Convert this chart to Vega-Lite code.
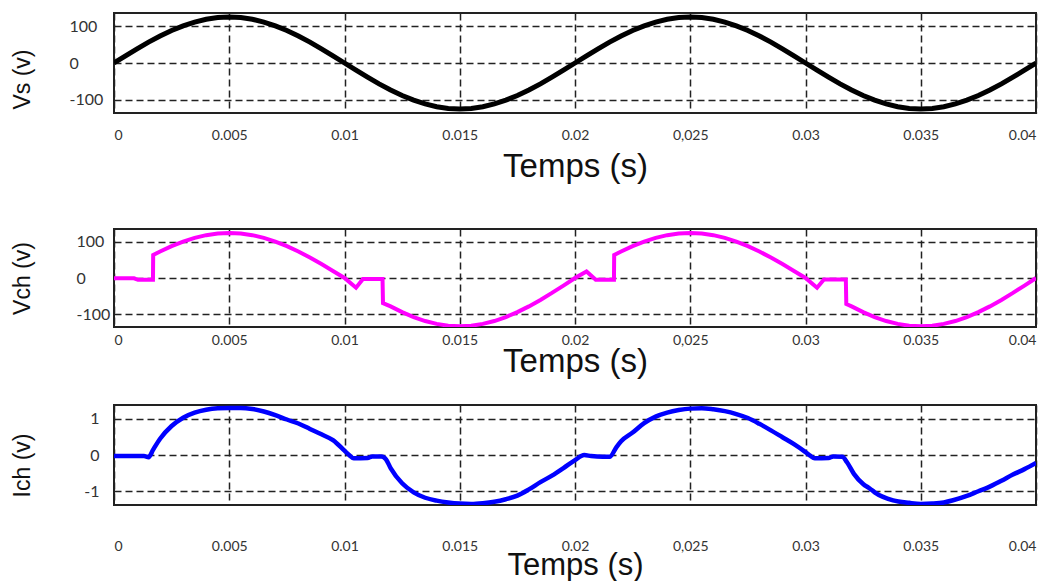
{
  "$schema": "https://vega.github.io/schema/vega-lite/v6.json",
  "padding": {"left": 10, "top": 12, "right": 5, "bottom": 0},
  "background": "white",
  "datasets": {
    "vs": [
      {"t":0,"v":0},{"t":0.0005,"v":19.6},{"t":0.001,"v":38.6},{"t":0.0015,"v":56.8},{"t":0.002,"v":73.5},{"t":0.0025,"v":88.4},{"t":0.003,"v":101.1},{"t":0.0035,"v":111.4},{"t":0.004,"v":118.9},{"t":0.0045,"v":123.5},
      {"t":0.005,"v":125},{"t":0.0055,"v":123.5},{"t":0.006,"v":118.9},{"t":0.0065,"v":111.4},{"t":0.007,"v":101.1},{"t":0.0075,"v":88.4},{"t":0.008,"v":73.5},{"t":0.0085,"v":56.8},{"t":0.009,"v":38.6},{"t":0.0095,"v":19.6},
      {"t":0.01,"v":0},{"t":0.0105,"v":-19.6},{"t":0.011,"v":-38.6},{"t":0.0115,"v":-56.8},{"t":0.012,"v":-73.5},{"t":0.0125,"v":-88.4},{"t":0.013,"v":-101.1},{"t":0.0135,"v":-111.4},{"t":0.014,"v":-118.9},{"t":0.0145,"v":-123.5},
      {"t":0.015,"v":-125},{"t":0.0155,"v":-123.5},{"t":0.016,"v":-118.9},{"t":0.0165,"v":-111.4},{"t":0.017,"v":-101.1},{"t":0.0175,"v":-88.4},{"t":0.018,"v":-73.5},{"t":0.0185,"v":-56.8},{"t":0.019,"v":-38.6},{"t":0.0195,"v":-19.6},
      {"t":0.02,"v":0},{"t":0.0205,"v":19.6},{"t":0.021,"v":38.6},{"t":0.0215,"v":56.8},{"t":0.022,"v":73.5},{"t":0.0225,"v":88.4},{"t":0.023,"v":101.1},{"t":0.0235,"v":111.4},{"t":0.024,"v":118.9},{"t":0.0245,"v":123.5},
      {"t":0.025,"v":125},{"t":0.0255,"v":123.5},{"t":0.026,"v":118.9},{"t":0.0265,"v":111.4},{"t":0.027,"v":101.1},{"t":0.0275,"v":88.4},{"t":0.028,"v":73.5},{"t":0.0285,"v":56.8},{"t":0.029,"v":38.6},{"t":0.0295,"v":19.6},
      {"t":0.03,"v":0},{"t":0.0305,"v":-19.6},{"t":0.031,"v":-38.6},{"t":0.0315,"v":-56.8},{"t":0.032,"v":-73.5},{"t":0.0325,"v":-88.4},{"t":0.033,"v":-101.1},{"t":0.0335,"v":-111.4},{"t":0.034,"v":-118.9},{"t":0.0345,"v":-123.5},
      {"t":0.035,"v":-125},{"t":0.0355,"v":-123.5},{"t":0.036,"v":-118.9},{"t":0.0365,"v":-111.4},{"t":0.037,"v":-101.1},{"t":0.0375,"v":-88.4},{"t":0.038,"v":-73.5},{"t":0.0385,"v":-56.8},{"t":0.039,"v":-38.6},{"t":0.0395,"v":-19.6},
      {"t":0.04,"v":0}
    ],
    "vch": [
      {"t":0,"v":-1},{"t":0.00087,"v":-1},{"t":0.00104,"v":-5},{"t":0.00169,"v":-5},{"t":0.0017,"v":64},{"t":0.002,"v":73.5},{"t":0.0025,"v":88.4},{"t":0.003,"v":101.1},{"t":0.0035,"v":111.4},{"t":0.004,"v":118.9},{"t":0.0045,"v":123.5},
      {"t":0.005,"v":125},{"t":0.0055,"v":123.5},{"t":0.006,"v":118.9},{"t":0.0065,"v":111.4},{"t":0.007,"v":101.1},{"t":0.0075,"v":88.4},{"t":0.008,"v":73.5},{"t":0.0085,"v":56.8},{"t":0.009,"v":38.6},{"t":0.0095,"v":19.6},
      {"t":0.01,"v":0},{"t":0.0105,"v":-27},{"t":0.0108,"v":-3},{"t":0.01165,"v":-3},{"t":0.01167,"v":-70},{"t":0.012,"v":-78.8},{"t":0.0125,"v":-94.8},{"t":0.013,"v":-108.4},{"t":0.0135,"v":-119.4},{"t":0.014,"v":-127.4},{"t":0.0145,"v":-132.4},
      {"t":0.015,"v":-134},{"t":0.0155,"v":-132.4},{"t":0.016,"v":-127.4},{"t":0.0165,"v":-119.4},{"t":0.017,"v":-108.4},{"t":0.0175,"v":-94.8},{"t":0.018,"v":-78.8},{"t":0.0185,"v":-60.8},{"t":0.019,"v":-41.4},{"t":0.0195,"v":-21},
      {"t":0.02,"v":0},{"t":0.0205,"v":18},{"t":0.0209,"v":-5},{"t":0.02169,"v":-5},{"t":0.0217,"v":64},{"t":0.022,"v":73.5},{"t":0.0225,"v":88.4},{"t":0.023,"v":101.1},{"t":0.0235,"v":111.4},{"t":0.024,"v":118.9},{"t":0.0245,"v":123.5},
      {"t":0.025,"v":125},{"t":0.0255,"v":123.5},{"t":0.026,"v":118.9},{"t":0.0265,"v":111.4},{"t":0.027,"v":101.1},{"t":0.0275,"v":88.4},{"t":0.028,"v":73.5},{"t":0.0285,"v":56.8},{"t":0.029,"v":38.6},{"t":0.0295,"v":19.6},
      {"t":0.03,"v":0},{"t":0.0305,"v":-27},{"t":0.0308,"v":-4},{"t":0.03175,"v":-4},{"t":0.03177,"v":-72},{"t":0.032,"v":-78.8},{"t":0.0325,"v":-94.8},{"t":0.033,"v":-108.4},{"t":0.0335,"v":-119.4},{"t":0.034,"v":-127.4},{"t":0.0345,"v":-132.4},
      {"t":0.035,"v":-134},{"t":0.0355,"v":-132.4},{"t":0.036,"v":-127.4},{"t":0.0365,"v":-119.4},{"t":0.037,"v":-108.4},{"t":0.0375,"v":-94.8},{"t":0.038,"v":-78.8},{"t":0.0385,"v":-60.8},{"t":0.039,"v":-41.4},{"t":0.0395,"v":-21},
      {"t":0.04,"v":0}
    ],
    "ich": [
      {"t":0,"v":-0.03},{"t":0.0013,"v":-0.03},{"t":0.0015,"v":-0.06},{"t":0.0017,"v":0.15},{"t":0.002,"v":0.45},{"t":0.0025,"v":0.8},{"t":0.003,"v":1.03},{"t":0.0035,"v":1.17},{"t":0.004,"v":1.25},{"t":0.0045,"v":1.29},
      {"t":0.005,"v":1.3},{"t":0.0055,"v":1.3},{"t":0.006,"v":1.27},{"t":0.0065,"v":1.2},{"t":0.007,"v":1.1},{"t":0.0075,"v":0.98},{"t":0.008,"v":0.87},{"t":0.0085,"v":0.72},{"t":0.009,"v":0.57},{"t":0.0095,"v":0.41},
      {"t":0.01,"v":0.12},{"t":0.0102,"v":0},{"t":0.0104,"v":-0.09},{"t":0.011,"v":-0.08},{"t":0.0112,"v":-0.04},{"t":0.0116,"v":-0.04},{"t":0.0118,"v":-0.12},{"t":0.012,"v":-0.36},{"t":0.0125,"v":-0.78},{"t":0.013,"v":-1.03},
      {"t":0.0135,"v":-1.18},{"t":0.014,"v":-1.26},{"t":0.0145,"v":-1.31},{"t":0.015,"v":-1.34},{"t":0.0155,"v":-1.35},{"t":0.016,"v":-1.33},{"t":0.0165,"v":-1.29},{"t":0.017,"v":-1.22},{"t":0.0175,"v":-1.12},{"t":0.018,"v":-0.95},
      {"t":0.0185,"v":-0.75},{"t":0.019,"v":-0.57},{"t":0.0195,"v":-0.36},{"t":0.02,"v":-0.14},{"t":0.0204,"v":0},{"t":0.0207,"v":-0.03},{"t":0.0212,"v":-0.05},{"t":0.0215,"v":-0.05},{"t":0.0218,"v":0.22},{"t":0.022,"v":0.38},
      {"t":0.0225,"v":0.62},{"t":0.023,"v":0.88},{"t":0.0235,"v":1.06},{"t":0.024,"v":1.17},{"t":0.0245,"v":1.24},{"t":0.025,"v":1.28},{"t":0.0255,"v":1.29},{"t":0.026,"v":1.26},{"t":0.0265,"v":1.21},{"t":0.027,"v":1.13},
      {"t":0.0275,"v":1.02},{"t":0.028,"v":0.86},{"t":0.0285,"v":0.68},{"t":0.029,"v":0.49},{"t":0.0295,"v":0.3},{"t":0.03,"v":0.08},{"t":0.0302,"v":-0.02},{"t":0.0304,"v":-0.09},{"t":0.031,"v":-0.08},{"t":0.0312,"v":-0.04},
      {"t":0.0316,"v":-0.05},{"t":0.0318,"v":-0.2},{"t":0.0321,"v":-0.52},{"t":0.0325,"v":-0.8},{"t":0.0328,"v":-0.93},{"t":0.033,"v":-1.03},{"t":0.0338,"v":-1.25},{"t":0.0345,"v":-1.32},{"t":0.035,"v":-1.35},{"t":0.0355,"v":-1.34},
      {"t":0.036,"v":-1.31},{"t":0.0364,"v":-1.25},{"t":0.037,"v":-1.13},{"t":0.0375,"v":-1.0},{"t":0.0379,"v":-0.9},{"t":0.0385,"v":-0.71},{"t":0.039,"v":-0.54},{"t":0.0395,"v":-0.39},{"t":0.04,"v":-0.22}
    ]
  },
  "spacing": 44,
  "vconcat": [
    {
      "width": 922, "height": 100,
      "data": {"name": "vs"},
      "mark": {"type": "line", "color": "#000000", "strokeWidth": 5, "clip": true},
      "encoding": {
        "x": {"field": "t", "type": "quantitative", "scale": {"domain": [0, 0.04], "nice": false},
          "axis": {"values": [0,0.005,0.01,0.015,0.02,0.025,0.03,0.035,0.04], "labelExpr": "abs(datum.value - 0.025) < 1e-9 ? '0,025' : format(datum.value, '~g')", "labelPadding": 15, "title": "Temps (s)", "titleY": 63}},
        "y": {"field": "v", "type": "quantitative", "scale": {"domain": [-136, 136], "nice": false},
          "axis": {"values": [-100, 0, 100], "labelExpr": "'' + datum.value", "labelAlign": "left", "labelPadding": 45, "title": "Vs (v)", "titleY": 66}}
      }
    },
    {
      "spacing": 25,
      "vconcat": [
        {
          "width": 922, "height": 98,
          "data": {"name": "vch"},
          "mark": {"type": "line", "color": "#ff00ff", "strokeWidth": 4, "clip": true},
          "encoding": {
            "x": {"field": "t", "type": "quantitative", "scale": {"domain": [0, 0.04], "nice": false},
              "axis": {"values": [0,0.005,0.01,0.015,0.02,0.025,0.03,0.035,0.04], "labelExpr": "abs(datum.value - 0.025) < 1e-9 ? '0,025' : format(datum.value, '~g')", "labelPadding": 6, "title": "Temps (s)", "titleY": 44}},
            "y": {"field": "v", "type": "quantitative", "scale": {"domain": [-136, 136], "nice": false},
              "axis": {"values": [-100, 0, 100], "labelExpr": "'' + datum.value", "labelAlign": "left", "labelPadding": 38, "title": "Vch (v)"}}
          }
        },
        {
          "width": 922, "height": 100,
          "data": {"name": "ich"},
          "mark": {"type": "line", "color": "#0000ff", "strokeWidth": 4.5, "clip": true, "interpolate": "monotone"},
          "encoding": {
            "x": {"field": "t", "type": "quantitative", "scale": {"domain": [0, 0.04], "nice": false},
              "axis": {"values": [0,0.005,0.01,0.015,0.02,0.025,0.03,0.035,0.04], "labelExpr": "abs(datum.value - 0.025) < 1e-9 ? '0,025' : format(datum.value, '~g')", "labelPadding": 34, "title": "Temps (s)", "titleY": 69, "titleFontSize": 31}},
            "y": {"field": "v", "type": "quantitative", "scale": {"domain": [-1.38, 1.38], "nice": false},
              "axis": {"values": [-1, 0, 1], "labelExpr": "'' + datum.value", "labelAlign": "right", "labelPadding": 15, "title": "Ich (v)", "titleY": 60}}
          }
        }
      ]
    }
  ],
  "config": {
    "view": {"stroke": "#222222", "strokeWidth": 2},
    "axis": {"domain": false, "ticks": false, "grid": true, "gridColor": "#222222", "gridDash": [7, 4], "gridWidth": 1.5, "gridOpacity": 1,
      "labelFont": "Lato", "labelColor": "#333333", "titleFont": "Liberation Sans", "titleFontWeight": "normal", "titleColor": "#111111"},
    "axisX": {"labelFontSize": 14, "titleFontSize": 33, "titleBaseline": "alphabetic"},
    "axisY": {"labelFontSize": 16, "titleFontSize": 23, "titleBaseline": "alphabetic", "titleX": -84.5}
  }
}
